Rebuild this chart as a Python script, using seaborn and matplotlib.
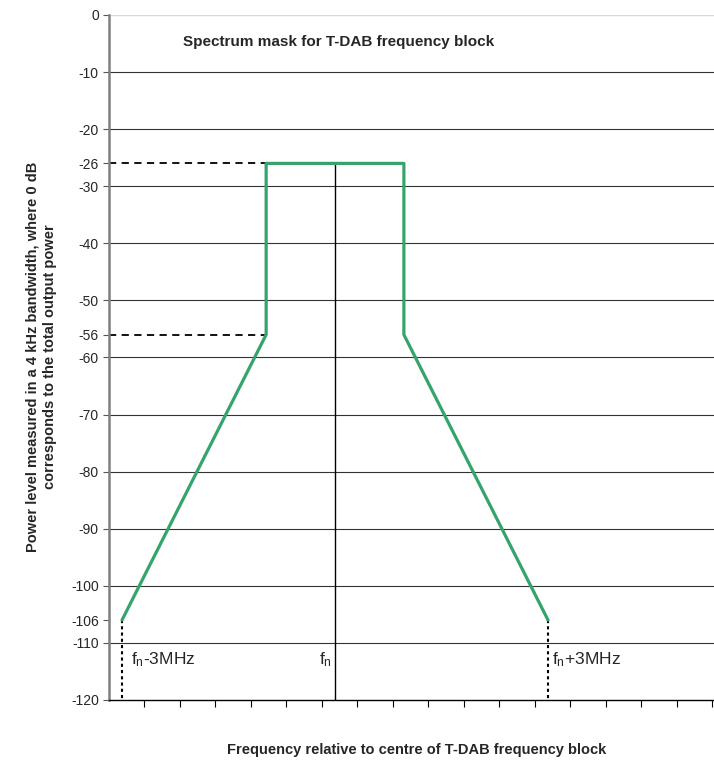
import numpy as np
import pandas as pd
import matplotlib
matplotlib.use("Agg")
import matplotlib.pyplot as plt
import seaborn as sns

# mask corner points (MHz relative to fn, dB)
freq_mhz = [-3.0, -0.97, -0.97, 0.97, 0.97, 3.0]
level_db = [-106, -56, -26, -26, -56, -106]

y_ticks = [0, -10, -20, -26, -30, -40, -50, -56, -60, -70, -80, -90, -100, -106, -110, -120]
grid_levels = [-10, -20, -30, -40, -50, -60, -70, -80, -90, -100, -110]
x_start = -3.19
x_tick_step = 0.5

df = pd.DataFrame({"freq": freq_mhz, "level": level_db})

sns.set_theme(style="white")
plt.rcParams['font.family'] = ['Liberation Sans', 'DejaVu Sans']
plt.rcParams['mathtext.fontset'] = 'custom'
plt.rcParams['mathtext.rm'] = 'Liberation Sans'
plt.rcParams['mathtext.it'] = 'Liberation Sans'

fig = plt.figure(figsize=(7.14, 7.64), dpi=100)
ax = fig.add_axes([0.152, 0.0838, 0.848, 0.8966])

# horizontal grid
for g in grid_levels:
    ax.axhline(g, color='#333333', lw=0.8, zorder=1)
ax.axhline(0, color='#d8d8d8', lw=1.0, zorder=1)

# reference lines
ax.plot([x_start, -0.97], [-26, -26], color='black', ls=(0, (4, 3)), lw=1.3, zorder=2)
ax.plot([x_start, -0.97], [-56, -56], color='black', ls=(0, (4, 3)), lw=1.3, zorder=2)
ax.plot([-3, -3], [-106, -120], color='black', ls=(0, (1.5, 1.5)), lw=1.5, zorder=2)
ax.plot([3, 3], [-106, -120], color='black', ls=(0, (1.5, 1.5)), lw=1.5, zorder=2)
ax.plot([0, 0], [-26, -120], color='black', lw=1.0, zorder=2)

# the mask itself
sns.lineplot(data=df, x='freq', y='level', sort=False, estimator=None,
             color='#35a46c', lw=2.3, ax=ax, zorder=3)

ax.set_xlim(x_start, 5.338)
ax.set_ylim(-120, 0)
ax.set_yticks(y_ticks)
ax.set_yticklabels([str(v) for v in y_ticks], fontsize=10)
xt = np.arange(x_start + x_tick_step, 5.4, x_tick_step)
ax.set_xticks(xt)
ax.set_xticklabels([])
ax.tick_params(axis='x', direction='out', length=5, width=0.8, color='black', bottom=True)
ax.tick_params(axis='y', direction='out', length=4, width=0.8, color='#555555', left=True, pad=3)
ax.set_xlabel('')
ax.set_ylabel('')

for s in ['top', 'right']:
    ax.spines[s].set_visible(False)
ax.spines['left'].set_color('#808080')
ax.spines['left'].set_linewidth(1.8)
ax.spines['bottom'].set_color('black')
ax.spines['bottom'].set_linewidth(1.0)

ax.text(-2.88, -113, r'f$_{\mathregular{n}}$-3MHz', fontsize=12.5, va='center', ha='left')
ax.text(-0.04, -113, r'f$_{\mathregular{n}}$', fontsize=12.5, va='center', ha='right')
ax.text(3.05, -113, r'f$_{\mathregular{n}}$+3MHz', fontsize=12.5, va='center', ha='left')

fig.text(0.256, 0.945, 'Spectrum mask for T-DAB frequency block',
         fontsize=11, fontweight='bold', ha='left', va='center')
fig.text(0.058, 0.533, 'Power level measured in a 4 kHz bandwidth, where 0 dB\ncorresponds to the total output power',
         fontsize=10.5, fontweight='bold', ha='center', va='center', rotation=90, linespacing=1.3)
fig.text(0.583, 0.018, 'Frequency relative to centre of T-DAB frequency block',
         fontsize=10.5, fontweight='bold', ha='center', va='center')

fig.savefig('out.png', dpi=100)
